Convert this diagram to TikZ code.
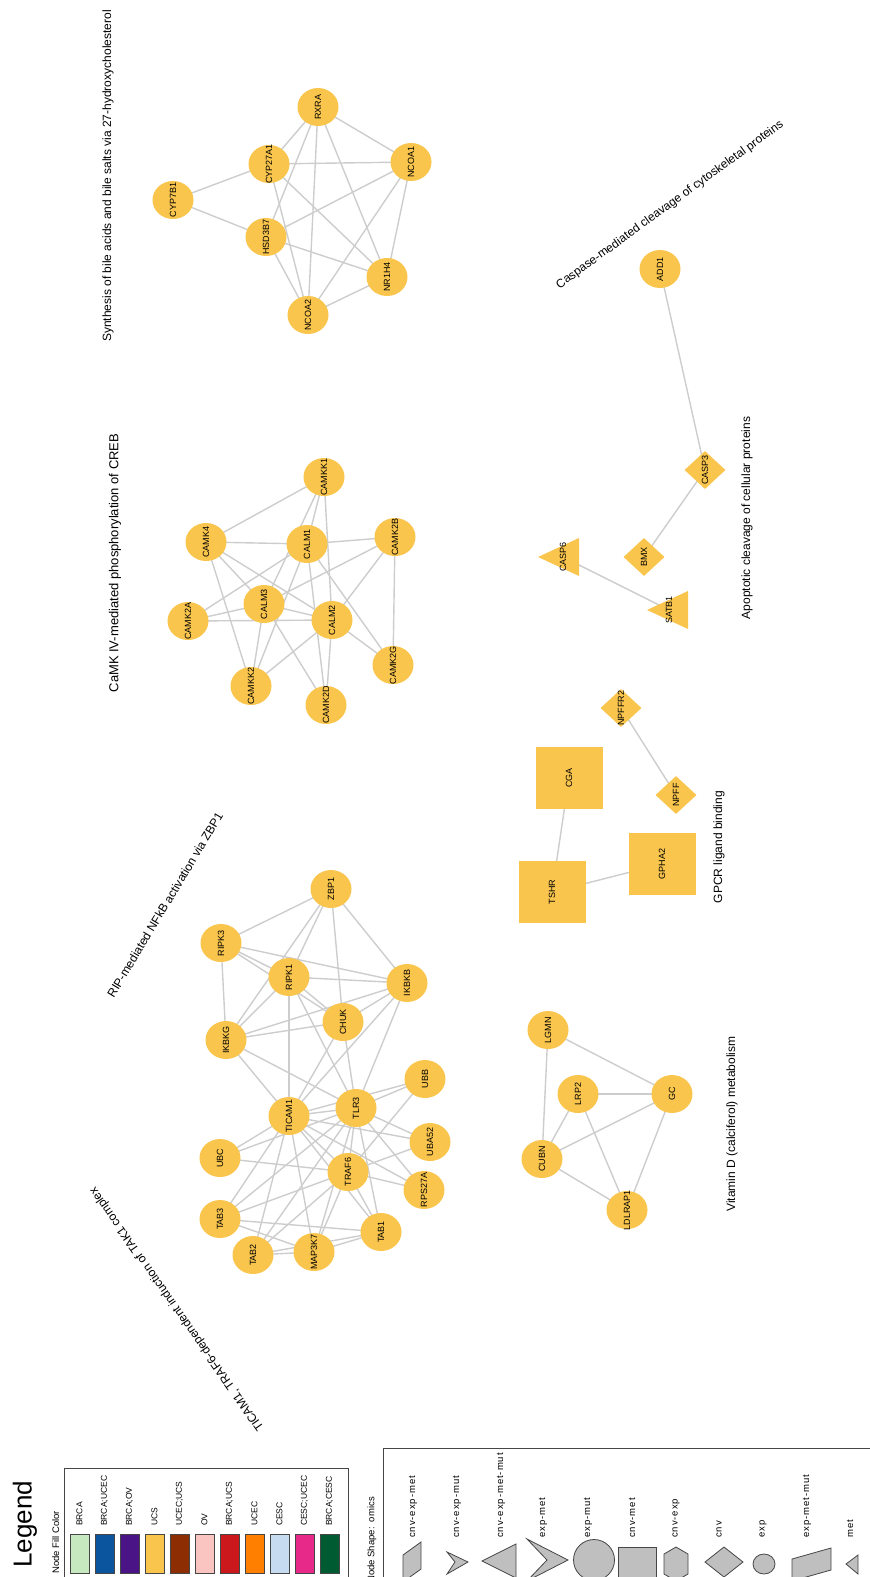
\documentclass[tikz,border=0pt]{standalone}
\usepackage{fontspec}
\setmainfont{Liberation Sans}
\newfontfamily\spacedfont[LetterSpace=10]{Liberation Sans}
\usetikzlibrary{shapes.geometric,backgrounds}
\definecolor{nodefill}{RGB}{249,197,77}
\definecolor{edgegray}{RGB}{205,205,205}
\definecolor{shapegray}{RGB}{191,191,191}
\definecolor{bordergray}{RGB}{70,70,70}
\definecolor{sw1}{RGB}{199,233,192}
\definecolor{sw2}{RGB}{11,85,158}
\definecolor{sw3}{RGB}{74,20,134}
\definecolor{sw4}{RGB}{249,197,77}
\definecolor{sw5}{RGB}{140,45,4}
\definecolor{sw6}{RGB}{250,196,192}
\definecolor{sw7}{RGB}{203,24,29}
\definecolor{sw8}{RGB}{255,127,0}
\definecolor{sw9}{RGB}{198,219,239}
\definecolor{sw10}{RGB}{231,41,138}
\definecolor{sw11}{RGB}{0,90,50}
\newcommand{\nl}[1]{\makebox[0pt]{#1}}
\tikzset{
  cnode/.style={ellipse, rotate=90, fill=nodefill, minimum width=38pt, minimum height=41pt, inner sep=0pt, font=\fontsize{9}{10}\selectfont},
  dnode/.style={diamond, rotate=90, fill=nodefill, minimum width=38pt, minimum height=41pt, inner sep=0pt, font=\fontsize{9}{10}\selectfont},
  snode/.style={rectangle, rotate=90, fill=nodefill, minimum width=62pt, minimum height=67pt, inner sep=0pt, font=\fontsize{9}{10}\selectfont},
  tlabel/.style={rotate=90, inner sep=0pt, font=\fontsize{9}{10}\selectfont},
  tri/.style={fill=nodefill},
  edge/.style={draw=edgegray, line width=1.4pt},
  pathlbl/.style={inner sep=0pt, font=\fontsize{12}{13}\selectfont},
  legshape/.style={fill=shapegray, draw=bordergray, line width=0.8pt},
  legbox/.style={draw=bordergray, line width=0.9pt},
  swlabel/.style={rotate=90, anchor=west, inner sep=0pt, font=\fontsize{8.5}{9}\selectfont},
  shlabel/.style={rotate=90, anchor=west, inner sep=0pt, font=\spacedfont\fontsize{9.5}{10}\selectfont},
}
\begin{document}
\begin{tikzpicture}[x=1pt,y=-1pt]
\useasboundingbox (0,0) rectangle (870,1577);

% ---------- Bile acids cluster ----------
\node[cnode] (rxra) at (318,107) {\nl{RXRA}};
\node[cnode] (cyp27a1) at (269,164) {\nl{CYP27A1}};
\node[cnode] (ncoa1) at (411,162) {\nl{NCOA1}};
\node[cnode] (cyp7b1) at (173,200) {\nl{CYP7B1}};
\node[cnode] (hsd3b7) at (266,237) {\nl{HSD3B7}};
\node[cnode] (nr1h4) at (387,277) {\nl{NR1H4}};
\node[cnode] (ncoa2) at (308,315) {\nl{NCOA2}};

% ---------- CaMK cluster ----------
\node[cnode] (camkk1) at (324,477) {\nl{CAMKK1}};
\node[cnode] (camk4) at (206,542) {\nl{CAMK4}};
\node[cnode] (calm1) at (307,544) {\nl{CALM1}};
\node[cnode] (camk2b) at (395,537) {\nl{CAMK2B}};
\node[cnode] (calm3) at (264,604) {\nl{CALM3}};
\node[cnode] (camk2a) at (188,621) {\nl{CAMK2A}};
\node[cnode] (calm2) at (332,620) {\nl{CALM2}};
\node[cnode] (camk2g) at (393,665) {\nl{CAMK2G}};
\node[cnode] (camkk2) at (251,686) {\nl{CAMKK2}};
\node[cnode] (camk2d) at (326,705) {\nl{CAMK2D}};

% ---------- RIP / TICAM1 cluster ----------
\node[cnode] (zbp1) at (331,889) {\nl{ZBP1}};
\node[cnode] (ripk3) at (221,943) {\nl{RIPK3}};
\node[cnode] (ripk1) at (289,977) {\nl{RIPK1}};
\node[cnode] (ikbkb) at (407,983) {\nl{IKBKB}};
\node[cnode] (chuk) at (343,1022) {\nl{CHUK}};
\node[cnode] (ikbkg) at (226,1040) {\nl{IKBKG}};
\node[cnode] (ubb) at (425,1079) {\nl{UBB}};
\node[cnode] (ticam1) at (289,1116) {\nl{TICAM1}};
\node[cnode] (tlr3) at (356,1108) {\nl{TLR3}};
\node[cnode] (uba52) at (430,1142) {\nl{UBA52}};
\node[cnode] (ubc) at (220,1158) {\nl{UBC}};
\node[cnode] (traf6) at (348,1172) {\nl{TRAF6}};
\node[cnode] (rps27a) at (424,1190) {\nl{RPS27A}};
\node[cnode] (tab3) at (220,1219) {\nl{TAB3}};
\node[cnode] (tab1) at (381,1232) {\nl{TAB1}};
\node[cnode] (tab2) at (253,1255) {\nl{TAB2}};
\node[cnode] (map3k7) at (314,1252) {\nl{MAP3K7}};

% ---------- Caspase / apoptotic ----------
\node[cnode] (add1) at (660,269) {\nl{ADD1}};
\node[dnode] (casp3) at (705,470) {\nl{CASP3}};
\node[dnode] (bmx) at (644,557) {\nl{BMX}};
\fill[tri] (538,557) -- (579,538) -- (579,576) -- cycle;
\fill[tri] (647,610) -- (688,591) -- (688,629) -- cycle;
\node[tlabel] (casp6) at (563,557) {CASP6};
\node[tlabel] (satb1) at (669,610) {SATB1};

% ---------- GPCR ----------
\node[dnode] (npffr2) at (621,708) {\nl{NPFFR2}};
\node[dnode] (npff) at (676,795) {\nl{NPFF}};
\node[snode] (cga) at (569,778) {\nl{CGA}};
\node[snode] (tshr) at (552,892) {\nl{TSHR}};
\node[snode] (gpha2) at (662,864) {\nl{GPHA2}};

% ---------- Vitamin D ----------
\node[cnode] (lgmn) at (548,1030) {\nl{LGMN}};
\node[cnode] (lrp2) at (578,1094) {\nl{LRP2}};
\node[cnode] (gc) at (672,1094) {\nl{GC}};
\node[cnode] (cubn) at (542,1159) {\nl{CUBN}};
\node[cnode] (ldlrap1) at (627,1210) {\nl{LDLRAP1}};

% ---------- edges ----------
\begin{scope}[on background layer]
\foreach \a/\b in {rxra/cyp27a1, rxra/ncoa1, rxra/hsd3b7, rxra/ncoa2, rxra/nr1h4,
  cyp27a1/ncoa1, cyp27a1/cyp7b1, cyp27a1/nr1h4, cyp27a1/ncoa2, ncoa1/hsd3b7,
  ncoa1/ncoa2, ncoa1/nr1h4, cyp7b1/hsd3b7, hsd3b7/nr1h4, hsd3b7/ncoa2, nr1h4/ncoa2,
  camkk1/camk4, camkk1/calm1, camkk1/calm3, camkk1/calm2, camk4/calm1, camk4/calm3,
  camk4/calm2, camk4/camkk2, calm1/camk2b, calm1/camk2a, calm1/camkk2, calm1/camk2d,
  calm1/camk2g, camk2b/camk2g, camk2b/calm2, camk2b/calm3, calm3/camk2a, calm3/calm2,
  calm3/camkk2, calm3/camk2d, camk2a/calm2, calm2/camkk2, calm2/camk2d, calm2/camk2g,
  zbp1/ripk3, zbp1/ripk1, zbp1/ikbkg, zbp1/chuk, zbp1/ikbkb, ripk3/ripk1, ripk3/chuk,
  ripk3/ikbkb, ripk3/ikbkg, ripk1/ikbkb, ripk1/chuk, ripk1/ikbkg, ripk1/ticam1,
  ripk1/tlr3, ikbkb/chuk, ikbkb/ikbkg, ikbkb/tlr3, ikbkb/ticam1, chuk/ikbkg,
  chuk/ticam1, chuk/tlr3, ikbkg/ticam1, ikbkg/tlr3, ticam1/tlr3, ticam1/ubb,
  ticam1/uba52, ticam1/rps27a, ticam1/ubc, ticam1/traf6, ticam1/tab3, ticam1/tab2,
  ticam1/map3k7, ticam1/tab1, tlr3/ubb, tlr3/uba52, tlr3/rps27a, tlr3/ubc, tlr3/traf6,
  tlr3/tab1, tlr3/map3k7, tlr3/tab2, tlr3/tab3, ubb/traf6, uba52/traf6, rps27a/traf6,
  ubc/traf6, traf6/tab3, traf6/tab2, traf6/map3k7, traf6/tab1, tab3/tab1, tab3/map3k7,
  tab2/map3k7, tab2/tab1, map3k7/tab1,
  add1/casp3, casp3/bmx, casp6/satb1,
  npffr2/npff, cga/tshr, tshr/gpha2,
  lgmn/cubn, lgmn/gc, lrp2/gc, lrp2/cubn, lrp2/ldlrap1, cubn/gc, cubn/ldlrap1, gc/ldlrap1}
  \draw[edge] (\a.center) -- (\b.center);
\end{scope}

% ---------- pathway labels ----------
\node[pathlbl, rotate=90] (p1) at (108,176) {Synthesis of bile acids and bile salts via 27-hydroxycholesterol};
\node[pathlbl, rotate=90, font=\fontsize{13}{14}\selectfont] (p2) at (115,563) {CaMK IV-mediated phosphorylation of CREB};
\node[pathlbl, rotate=59] (p3) at (165,905) {RIP-mediated NFkB activation via ZBP1};
\node[pathlbl, rotate=125] (p4) at (177,1309) {TICAM1, TRAF6-dependent induction of TAK1 complex};
\node[pathlbl, rotate=36] (p5) at (670,205) {Caspase-mediated cleavage of cytoskeletal proteins};
\node[pathlbl, rotate=90] (p6) at (747,518) {Apoptotic cleavage of cellular proteins};
\node[pathlbl, rotate=90] (p7) at (719,847) {GPCR ligand binding};
\node[pathlbl, rotate=90] (p8) at (732,1124) {Vitamin D (calciferol) metabolism};

% ---------- legend ----------
\begin{scope}
\clip (0,0) rectangle (870,1577);
\node[rotate=90, anchor=base west, inner sep=0pt, font=\fontsize{26}{26}\selectfont] (legtitle) at (31.5,1568) {Legend};
\node[rotate=90, anchor=base west, inner sep=0pt, font=\fontsize{9.5}{10}\selectfont] (fillttl) at (59,1574) {Node Fill Color};
\draw[legbox] (64,1468) rectangle (348,1640);
\foreach \c/\t [count=\i from 0] in {sw1/BRCA, sw2/BRCA;UCEC, sw3/BRCA;OV, sw4/UCS, sw5/UCEC;UCS, sw6/OV, sw7/BRCA;UCS, sw8/UCEC, sw9/CESC, sw10/CESC;UCEC, sw11/BRCA;CESC}{
  \filldraw[fill=\c, draw=bordergray, line width=0.8pt] (70+25*\i,1534) rectangle (89+25*\i,1573);
  \node[swlabel] (swl\i) at (79.5+25*\i,1526) {\t};
}
\node[rotate=90, anchor=east, inner sep=0pt, font=\fontsize{9.5}{10}\selectfont] (shapettl) at (372,1497) {Node Shape:\ \ omics};
\draw[legbox] (383,1448) rectangle (900,1640);
\filldraw[legshape] (403,1555) -- (421,1542) -- (421,1569) -- (403,1582) -- cycle;
\filldraw[legshape] (447,1552) -- (468,1562) -- (447,1574) -- (455,1562) -- cycle;
\filldraw[legshape] (482,1561) -- (516,1544) -- (516,1578) -- cycle;
\filldraw[legshape] (527,1539) -- (568,1560) -- (527,1581) -- (547,1560) -- cycle;
\filldraw[legshape] (594,1560) circle[radius=20.5];
\filldraw[legshape] (618,1547) rectangle (656,1585);
\filldraw[legshape] (676,1547) -- (688,1554) -- (688,1574) -- (676,1581) -- (664,1574) -- (664,1554) -- cycle;
\filldraw[legshape] (705,1562) -- (724,1547) -- (743,1562) -- (724,1577) -- cycle;
\filldraw[legshape] (764,1564) ellipse[x radius=11, y radius=10];
\filldraw[legshape] (792,1559) -- (831,1548) -- (831,1570) -- (792,1581) -- cycle;
\filldraw[legshape] (846,1564) -- (858,1555) -- (858,1574) -- cycle;
\foreach \x/\t [count=\i] in {413/cnv-exp-met, 457/cnv-exp-mut, 501/cnv-exp-met-mut, 543/exp-met, 588/exp-mut, 632/cnv-met, 676/cnv-exp, 719/cnv, 763/exp, 807/exp-met-mut, 850/met}
  \node[shlabel] (shl\i) at (\x,1538) {\t};
\end{scope}
\end{tikzpicture}
\end{document}
